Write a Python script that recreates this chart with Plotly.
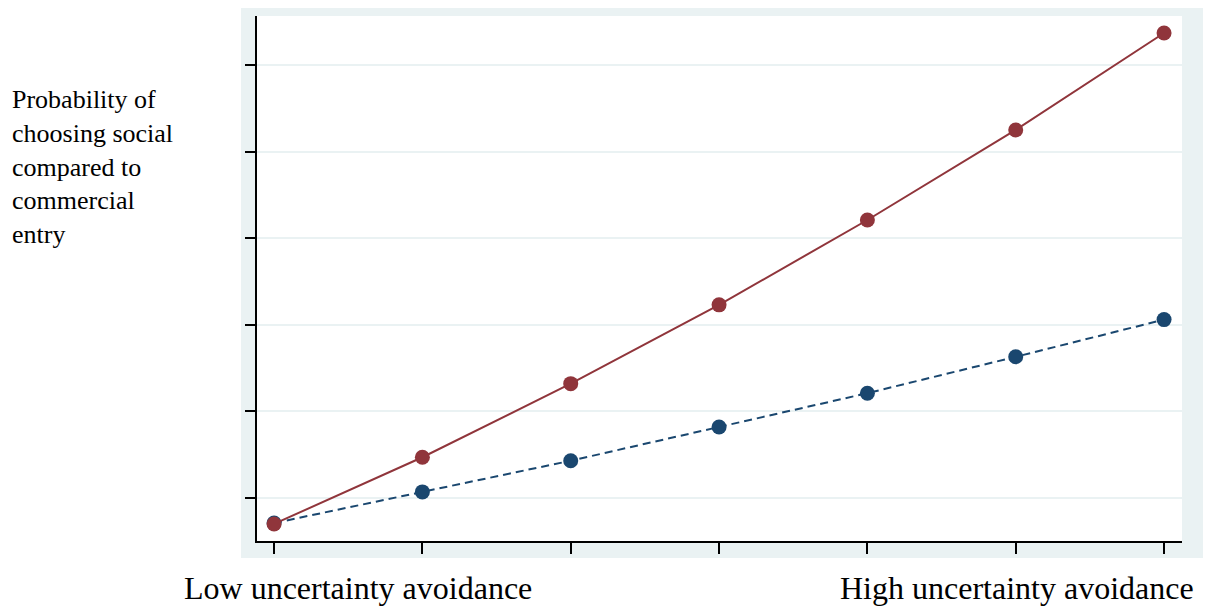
import plotly.graph_objects as go

# Data
levels = [1, 2, 3, 4, 5, 6, 7]
series_red = [0.070, 0.147, 0.232, 0.323, 0.421, 0.525, 0.637]
series_blue = [0.071, 0.107, 0.143, 0.182, 0.221, 0.263, 0.306]
y_ticks = [0.1, 0.2, 0.3, 0.4, 0.5, 0.6]
y_title = "Probability of<br>choosing social<br>compared to<br>commercial<br>entry"
x_low_label = "Low uncertainty avoidance"
x_high_label = "High uncertainty avoidance"

RED = "#90353B"
BLUE = "#1A476F"
BG = "#EAF2F3"

fig = go.Figure()
fig.add_trace(go.Scatter(
    x=levels, y=series_blue, mode="lines+markers",
    line=dict(color=BLUE, width=2, dash="8px,5px"),
    marker=dict(color=BLUE, size=15),
    showlegend=False, hoverinfo="skip",
))
fig.add_trace(go.Scatter(
    x=levels, y=series_red, mode="lines+markers",
    line=dict(color=RED, width=2),
    marker=dict(color=RED, size=15),
    showlegend=False, hoverinfo="skip",
))

# page body has an 8px margin; design in reference pixels and shift
OFF = 8
W, H = 1211 - OFF, 607 - OFF
L, T = 257 - OFF, 16 - OFF
R = W - (1182 - OFF)
B = H - (541 - OFF)
pw, ph = W - L - R, H - T - B

def px_x(p):
    return (p - OFF - L) / pw

def px_y(p):
    return (H - B - (p - OFF)) / ph

# Outer light region and white plot area
fig.add_shape(type="rect", xref="paper", yref="paper",
              x0=px_x(241), x1=px_x(1215), y0=px_y(558), y1=px_y(7),
              fillcolor=BG, line=dict(width=0), layer="below")
fig.add_shape(type="rect", xref="paper", yref="paper",
              x0=0, x1=1, y0=0, y1=1,
              fillcolor="white", line=dict(width=0), layer="below")

fig.update_layout(
    width=W, height=H,
    margin=dict(l=L, r=R, t=T, b=B, autoexpand=False),
    paper_bgcolor="white", plot_bgcolor="white",
    font=dict(family="Liberation Serif", color="black"),
    xaxis=dict(range=[0.885, 7.121], tickvals=levels, showticklabels=False,
               ticks="outside", ticklen=11, tickwidth=1.5, tickcolor="black",
               showline=True, linecolor="black", linewidth=1.5,
               showgrid=False, zeroline=False, fixedrange=True),
    yaxis=dict(range=[0.0503, 0.6566], tickvals=y_ticks, showticklabels=False,
               ticks="outside", ticklen=10, tickwidth=1.5, tickcolor="black",
               showline=True, linecolor="black", linewidth=1.5,
               showgrid=True, gridcolor=BG, gridwidth=2,
               zeroline=False, fixedrange=True),
    annotations=[
        dict(text=y_title, xref="paper", yref="paper",
             x=px_x(10), y=px_y(167), xanchor="left", yanchor="middle",
             align="left", showarrow=False,
             font=dict(family="Liberation Serif", size=26, color="black")),
        dict(text=x_low_label, xref="paper", yref="paper",
             x=px_x(357.5), y=px_y(588), xanchor="center", yanchor="middle",
             showarrow=False,
             font=dict(family="Liberation Serif", size=32, color="black")),
        dict(text=x_high_label, xref="paper", yref="paper",
             x=px_x(1016.5), y=px_y(588), xanchor="center", yanchor="middle",
             showarrow=False,
             font=dict(family="Liberation Serif", size=32, color="black")),
    ],
)

fig.write_html("out.html")
